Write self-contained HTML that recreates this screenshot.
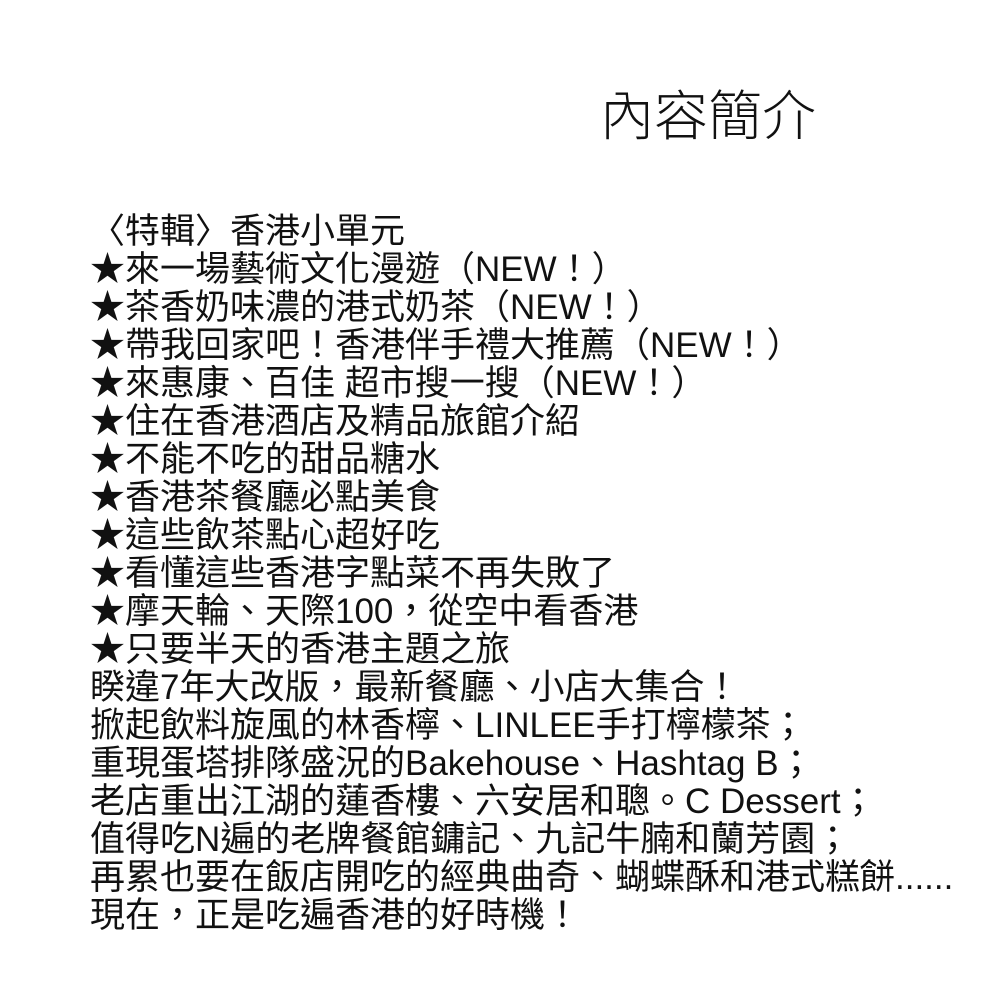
<!DOCTYPE html>
<html>
<head>
<meta charset="utf-8">
<style>
html,body{margin:0;padding:0;background:#fff;}
body{width:1000px;height:1000px;position:relative;overflow:hidden;color:#111;
font-family:"Liberation Sans","Noto Sans CJK TC",sans-serif;}
.title{position:absolute;left:600px;top:82px;font-size:54px;line-height:60px;white-space:nowrap;font-weight:300;
font-family:"Noto Sans CJK TC",sans-serif;}
.body{position:absolute;left:90px;top:213px;font-size:35px;line-height:38px;white-space:nowrap;}
</style>
</head>
<body>
<div class="title">內容簡介</div>
<div class="body">
〈特輯〉香港小單元<br>
★來一場藝術文化漫遊（NEW！）<br>
★茶香奶味濃的港式奶茶（NEW！）<br>
★帶我回家吧！香港伴手禮大推薦（NEW！）<br>
★來惠康、百佳 超市搜一搜（NEW！）<br>
★住在香港酒店及精品旅館介紹<br>
★不能不吃的甜品糖水<br>
★香港茶餐廳必點美食<br>
★這些飲茶點心超好吃<br>
★看懂這些香港字點菜不再失敗了<br>
★摩天輪、天際100，從空中看香港<br>
★只要半天的香港主題之旅<br>
睽違7年大改版，最新餐廳、小店大集合！<br>
掀起飲料旋風的林香檸、LINLEE手打檸檬茶；<br>
重現蛋塔排隊盛況的Bakehouse、Hashtag B；<br>
老店重出江湖的蓮香樓、六安居和聰。C Dessert；<br>
值得吃N遍的老牌餐館鏞記、九記牛腩和蘭芳園；<br>
再累也要在飯店開吃的經典曲奇、蝴蝶酥和港式糕餅......<br>
現在，正是吃遍香港的好時機！
</div>
</body>
</html>
